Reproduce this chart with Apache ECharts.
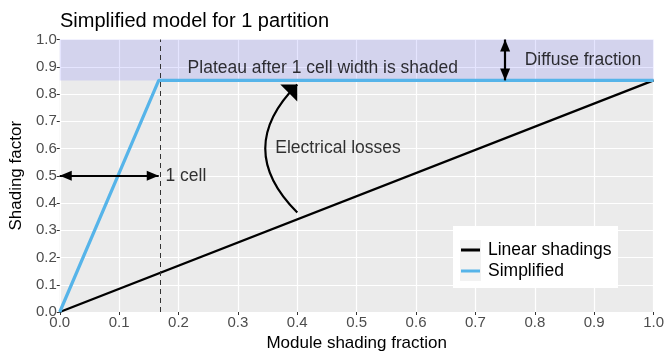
<!DOCTYPE html>
<html><head><meta charset="utf-8">
<script src="https://cdn.jsdelivr.net/npm/echarts@6/dist/echarts.min.js"></script>
<style>html,body{margin:0;padding:0;background:#fff}#c{width:667px;height:364px}</style>
</head><body><div id="c"></div>
<script>
var linearX = [0, 1];
var linearY = [0, 0.85];
var simplifiedX = [0, 1/6, 1];
var simplifiedY = [0, 0.85, 0.85];
var plateau = 0.85;
var cellWidth = 1/6;
var labels = [
  {text:'1 cell', x:0.178, y:0.5, align:'left'},
  {text:'Electrical losses', x:0.363, y:0.6, align:'left'},
  {text:'Plateau after 1 cell width is shaded', x:0.443, y:0.893, align:'center'},
  {text:'Diffuse fraction', x:0.783, y:0.925, align:'left'}
];
var hArrow = [[0, 0.5], [1/6, 0.5]];
var vArrow = [[0.75, 0.85], [0.75, 1.0]];
var curveArrow = [[0.4, 0.365], [0.4, 0.835]];

var font = 'Liberation Sans, Arial, sans-serif';
// triangle head whose tip sits at the symbol centre
var head = 'path://M5,12 L10,24 L0,24 Z M5,0';
var headSize = [10, 24];
var chart = echarts.init(document.getElementById('c'), null, {renderer:'canvas'});
function zip(a,b){return a.map(function(v,i){return [v,b[i]];});}
var axisCommon = {
  type:'value', min:0, max:1, interval:0.1,
  axisLine:{show:false},
  axisTick:{show:true, length:3, lineStyle:{color:'#333', width:1}},
  axisLabel:{color:'#4D4D4D', fontSize:15, fontFamily:font, formatter:function(v){return v.toFixed(1);}, margin:3},
  splitLine:{show:true, lineStyle:{color:'#FFFFFF', width:1.2}},
  nameTextStyle:{color:'#000', fontSize:17, fontFamily:font}
};
chart.setOption({
  animation:false,
  backgroundColor:'#fff',
  title:{text:'Simplified model for 1 partition', left:55, top:6,
    textStyle:{fontSize:20, fontWeight:'normal', color:'#000', fontFamily:font}},
  grid:{left:59, right:13, top:39.5, bottom:52, show:true, backgroundColor:'#EBEBEB', borderWidth:0},
  xAxis:Object.assign({}, axisCommon, {name:'Module shading fraction', nameLocation:'middle', nameGap:22}),
  yAxis:Object.assign({}, axisCommon, {name:'Shading factor', nameLocation:'middle', nameGap:29, nameRotate:90}),
  graphic:[
    {type:'rect', left:453, top:226, shape:{width:165, height:62}, style:{fill:'#fff'}, z:3, silent:true},
    {type:'rect', left:460, top:240, shape:{width:21, height:41}, style:{fill:'#F2F2F2'}, z:3, silent:true}
  ],
  legend:{
    data:['Linear shadings','Simplified'], orient:'vertical', z:10,
    left:461, top:241, padding:0, backgroundColor:'transparent',
    itemWidth:19, itemHeight:3, itemGap:3, icon:'rect',
    textStyle:{fontSize:17.5, color:'#000', fontFamily:font, padding:[0,0,0,3]}
  },
  series:[
    {
      name:'band', type:'line', data:[], silent:true,
      markArea:{silent:true, itemStyle:{color:'rgba(0,0,255,0.1)'}, data:[[{yAxis:plateau},{yAxis:1}]]},
      markLine:{silent:true, symbol:['none','none'], label:{show:false},
        lineStyle:{color:'#333', type:[5,4], width:1}, data:[{xAxis:cellWidth}]}
    },
    {name:'Linear shadings', type:'line', data:zip(linearX,linearY), showSymbol:false, symbol:'none',
      lineStyle:{color:'#000', width:2.2}, itemStyle:{color:'#000'}, z:3},
    {name:'Simplified', type:'line', data:zip(simplifiedX,simplifiedY), showSymbol:false, symbol:'none',
      lineStyle:{color:'#56B4E9', width:3.2}, itemStyle:{color:'#56B4E9'}, z:4},
    {
      name:'arrows', type:'line', data:[], silent:true, z:5,
      markLine:{silent:true, label:{show:false}, symbol:[head, head], symbolSize:headSize,
        symbolKeepAspect:false,
        lineStyle:{color:'#000', type:'solid', width:2.2},
        data:[
          [{coord:hArrow[0]},{coord:hArrow[1]}],
          [{coord:vArrow[0]},{coord:vArrow[1]}]
        ]}
    },
    {
      name:'curve', type:'lines', coordinateSystem:'cartesian2d', silent:true, z:5,
      symbol:['none', head], symbolSize:headSize, symbolKeepAspect:false,
      lineStyle:{color:'#000', width:2.2, opacity:1, curveness:0.5},
      data:[{coords:curveArrow}]
    },
    {
      name:'labels', type:'scatter', symbolSize:0, silent:true, z:6,
      data:labels.map(function(l){return {value:[l.x,l.y], label:{show:true, formatter:l.text,
        position:l.align==='left'?'right':'inside', distance:0, align:l.align==='left'?'left':'center',
        color:'#000', fontSize:17.5, fontFamily:font}};})
    }
  ]
});
</script></body></html>
